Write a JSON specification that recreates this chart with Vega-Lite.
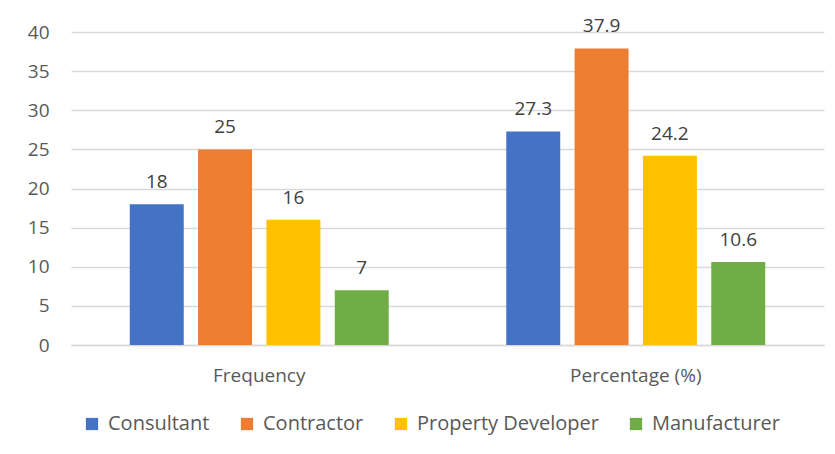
{
  "$schema": "https://vega.github.io/schema/vega-lite/v6.json",
  "width": 753,
  "height": 313,
  "autosize": {"type": "none"},
  "padding": {"left": 71, "top": 32, "right": 11, "bottom": 109},
  "background": "white",
  "data": {
    "values": [
      {"measure": "Frequency", "type": "Consultant", "value": 18},
      {"measure": "Frequency", "type": "Contractor", "value": 25},
      {"measure": "Frequency", "type": "Property Developer", "value": 16},
      {"measure": "Frequency", "type": "Manufacturer", "value": 7},
      {"measure": "Percentage (%)", "type": "Consultant", "value": 27.3},
      {"measure": "Percentage (%)", "type": "Contractor", "value": 37.9},
      {"measure": "Percentage (%)", "type": "Property Developer", "value": 24.2},
      {"measure": "Percentage (%)", "type": "Manufacturer", "value": 10.6}
    ]
  },
  "encoding": {
    "x": {
      "field": "measure",
      "type": "nominal",
      "sort": ["Frequency", "Percentage (%)"],
      "scale": {"paddingInner": 0, "paddingOuter": 0},
      "axis": {
        "title": null,
        "labelAngle": 0,
        "ticks": false,
        "domain": true,
        "domainColor": "#D9D9D9",
        "domainWidth": 1.5,
        "labelColor": "#595959",
        "labelFontSize": 19,
        "labelPadding": 21
      }
    },
    "xOffset": {
      "field": "type",
      "type": "nominal",
      "sort": ["Consultant", "Contractor", "Property Developer", "Manufacturer"],
      "scale": {"paddingInner": 0.21, "paddingOuter": 0.86}
    },
    "y": {
      "field": "value",
      "type": "quantitative",
      "scale": {"domain": [0, 40]},
      "axis": {
        "title": null,
        "values": [0, 5, 10, 15, 20, 25, 30, 35, 40],
        "ticks": false,
        "domain": false,
        "gridColor": "#D9D9D9",
        "gridWidth": 1.5,
        "labelColor": "#595959",
        "labelFontSize": 19,
        "labelPadding": 22
      }
    }
  },
  "layer": [
    {
      "mark": {"type": "bar"},
      "encoding": {
        "color": {
          "field": "type",
          "type": "nominal",
          "sort": ["Consultant", "Contractor", "Property Developer", "Manufacturer"],
          "scale": {
            "domain": ["Consultant", "Contractor", "Property Developer", "Manufacturer"],
            "range": ["#4472C4", "#ED7D31", "#FFC000", "#70AD47"]
          },
          "legend": {
            "title": null,
            "orient": "none",
            "direction": "horizontal",
            "legendX": 11,
            "legendY": 382,
            "symbolType": "square",
            "symbolSize": 150,
            "symbolStrokeWidth": 0,
            "labelFontSize": 20,
            "labelLimit": 0,
            "labelColor": "#595959",
            "labelOffset": 6,
            "columnPadding": 27
          }
        }
      }
    },
    {
      "mark": {"type": "text", "baseline": "bottom", "dy": -12, "fontSize": 19, "color": "#404040"},
      "encoding": {
        "text": {"field": "value", "type": "quantitative"}
      }
    }
  ],
  "config": {
    "font": "Open Sans",
    "view": {"stroke": null}
  }
}
